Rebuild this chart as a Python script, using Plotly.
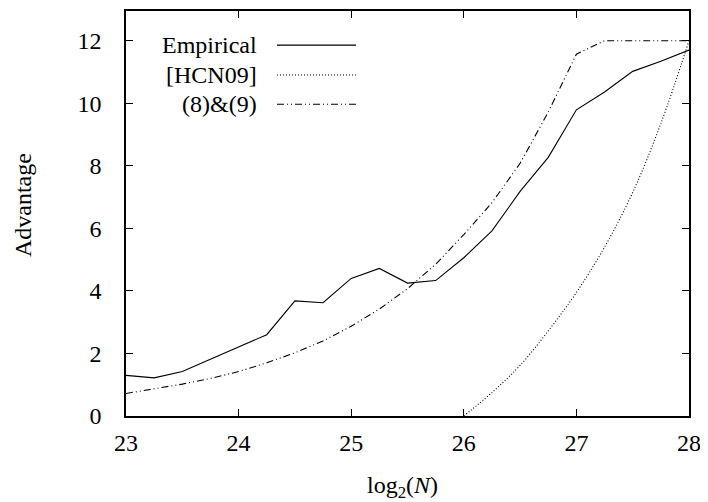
import plotly.graph_objects as go

x_vals = [23.0, 23.25, 23.5, 23.75, 24.0, 24.25, 24.5, 24.75, 25.0, 25.25, 25.5,
          25.75, 26.0, 26.25, 26.5, 26.75, 27.0, 27.25, 27.5, 27.75, 28.0]
empirical = [1.30, 1.22, 1.42, 1.82, 2.20, 2.60, 3.68, 3.62, 4.40, 4.72, 4.25,
             4.33, 5.06, 5.92, 7.18, 8.27, 9.79, 10.36, 11.02, 11.34, 11.70]
eq89 = [0.72, 0.86, 1.02, 1.20, 1.42, 1.70, 2.02, 2.40, 2.87, 3.42, 4.07,
        4.85, 5.80, 6.82, 8.08, 9.72, 11.57, 12.0, 12.0, 12.0, 12.0]
hcn_x = [26.0, 26.25, 26.5, 26.75, 27.0, 27.25, 27.5, 27.75, 28.0]
hcn09 = [0.0, 0.75, 1.62, 2.72, 3.95, 5.40, 7.15, 9.35, 12.0]

x_ticks = [23, 24, 25, 26, 27, 28]
y_ticks = [0, 2, 4, 6, 8, 10, 12]
legend_names = ["Empirical", "[HCN09]", "(8)&amp;(9)"]
legend_dashes = ["solid", "1px,2px", "7px,3px,1px,3px,1px,3px"]
x_title = "log<sub>2</sub>(<i>N</i>)"
y_title = "Advantage"

FONT = "Liberation Serif"
FS = 24

fig = go.Figure()
fig.add_trace(go.Scatter(x=x_vals, y=empirical, mode="lines",
                         line=dict(color="black", width=1.1, dash=legend_dashes[0]),
                         showlegend=False))
fig.add_trace(go.Scatter(x=hcn_x, y=hcn09, mode="lines", line_shape="spline",
                         line=dict(color="black", width=1.1, dash=legend_dashes[1]),
                         showlegend=False))
fig.add_trace(go.Scatter(x=x_vals, y=eq89, mode="lines",
                         line=dict(color="black", width=1.1, dash=legend_dashes[2]),
                         showlegend=False))

# plot area in figure pixels (page has an 8px body margin)
L, R, T, B = 118, 681, 1, 408
PW, PH = R - L, B - T

def px(xp):
    return (xp - L) / PW

def py(yp):
    return (B - yp) / PH

# manual gnuplot-style legend: right-aligned text then line sample
leg_y = [35.3, 65.3, 94.7]
for name, dash, yy in zip(legend_names, legend_dashes, leg_y):
    fig.add_annotation(xref="paper", yref="paper", x=px(251), y=py(yy), text=name,
                       showarrow=False, xanchor="right", yanchor="middle",
                       font=dict(family=FONT, size=FS, color="black"))
    fig.add_shape(type="line", xref="paper", yref="paper", x0=px(269), x1=px(348),
                  y0=py(yy), y1=py(yy), line=dict(color="black", width=1.1, dash=dash))

fig.add_annotation(xref="paper", yref="paper", x=px(394), y=py(479), text=x_title,
                   showarrow=False, xanchor="center", yanchor="middle",
                   font=dict(family=FONT, size=FS, color="black"))
fig.add_annotation(xref="paper", yref="paper", x=px(15), y=py(196), text=y_title,
                   showarrow=False, xanchor="center", yanchor="middle", textangle=-90,
                   font=dict(family=FONT, size=FS, color="black"))

axis_common = dict(showline=True, linecolor="black", linewidth=1.5, mirror="ticks",
                   ticks="inside", ticklen=7, tickwidth=1.2, tickcolor="black",
                   showgrid=False, zeroline=False,
                   tickfont=dict(family=FONT, size=FS, color="black"))

fig.update_layout(
    width=700, height=494,
    margin=dict(l=L, r=700 - R, t=T, b=494 - B),
    paper_bgcolor="white", plot_bgcolor="white",
    xaxis=dict(range=[23, 28], tickvals=x_ticks, ticklabelstandoff=4, **axis_common),
    yaxis=dict(range=[0, 12.95], tickvals=y_ticks, ticklabelstandoff=18, **axis_common),
)

fig.write_html("out.html")
